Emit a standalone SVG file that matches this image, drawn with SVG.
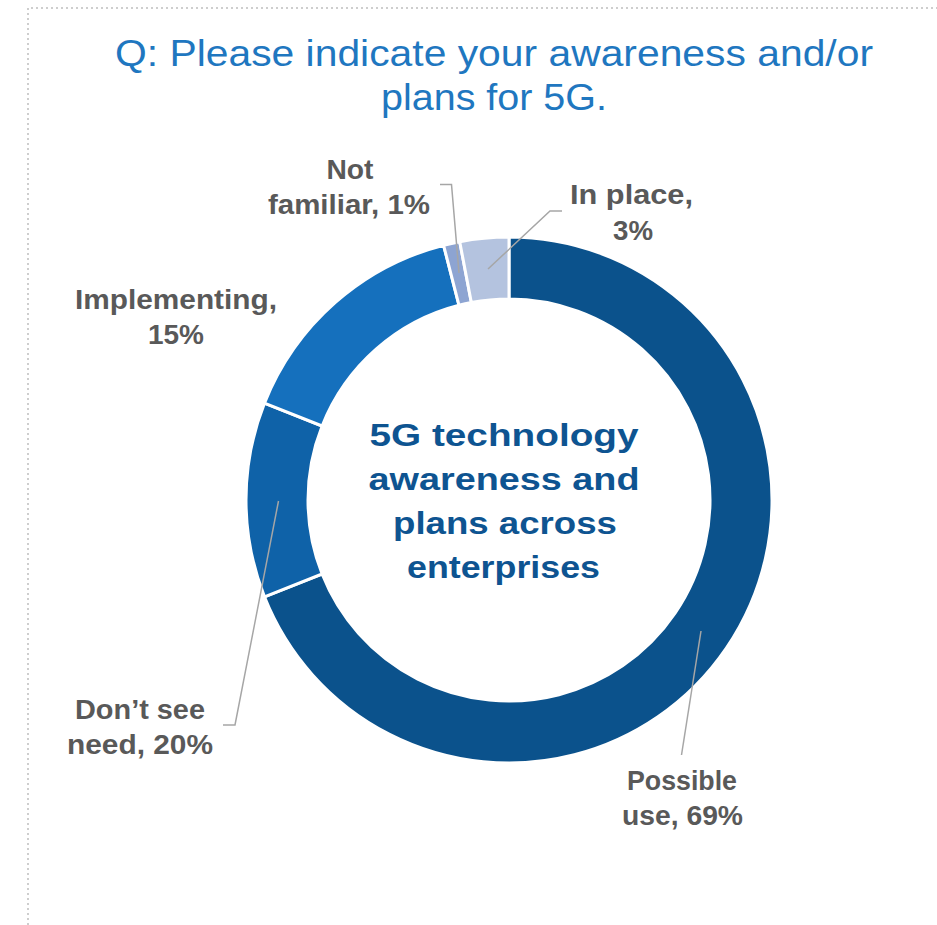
<svg xmlns="http://www.w3.org/2000/svg" width="937" height="925" viewBox="0 0 937 925">
<style>
.title{font-family:"Liberation Sans",Arial,sans-serif;font-size:36px;fill:#1F77C0;text-anchor:middle}
.lbl{font-family:"Liberation Sans",Arial,sans-serif;font-size:28px;font-weight:bold;fill:#595959;text-anchor:middle}
.ctr{font-family:"Liberation Sans",Arial,sans-serif;font-size:32px;font-weight:bold;fill:#0E5491;text-anchor:middle}
.seg{stroke:#FFFFFF;stroke-width:3;stroke-linejoin:miter}
.lead{fill:none;stroke:#A6A6A6;stroke-width:1.5}
.border{fill:none;stroke:#BFBFBF;stroke-width:1.5;stroke-dasharray:2 3}
</style>
<rect width="937" height="925" fill="#FFFFFF"/>
<path class="border" d="M28,925 L28,8 L937,8"/>
<g id="title">
<text class="title" x="494" y="66" textLength="758" lengthAdjust="spacingAndGlyphs">Q: Please indicate your awareness and/or</text>
<text class="title" x="494" y="110" textLength="226" lengthAdjust="spacingAndGlyphs">plans for 5G.</text>
</g>
<g id="seg-possible-use"><path class="seg" fill="#0B528C" d="M509,237 A263,263 0 1 1 264.47,596.82 L322.11,573.99 A201,201 0 1 0 509,299 Z"/></g>
<g id="seg-dont-see-need"><path class="seg" fill="#0F62A8" d="M264.47,596.82 A263,263 0 0 1 264.47,403.18 L322.11,426.01 A201,201 0 0 0 322.11,573.99 Z"/></g>
<g id="seg-implementing"><path class="seg" fill="#1570BD" d="M264.47,403.18 A263,263 0 0 1 443.59,245.26 L459.01,305.32 A201,201 0 0 0 322.11,426.01 Z"/></g>
<g id="seg-not-familiar"><path class="seg" fill="#8DA4D2" d="M443.59,245.26 A263,263 0 0 1 459.72,241.66 L471.34,302.56 A201,201 0 0 0 459.01,305.32 Z"/></g>
<g id="seg-in-place"><path class="seg" fill="#B4C3DF" d="M459.72,241.66 A263,263 0 0 1 509,237 L509,299 A201,201 0 0 0 471.34,302.56 Z"/></g>
<g id="connectors">
<path class="lead" d="M440,184.5 L451.5,184.5 L459,273"/>
<path class="lead" d="M562,211 L550,211 L488,269"/>
<path class="lead" d="M223,725 L235,725 L278.5,501"/>
<path class="lead" d="M681.5,755 L701,631"/>
</g>
<g id="center-label">
<text class="ctr" x="504" y="446" textLength="269" lengthAdjust="spacingAndGlyphs">5G technology</text>
<text class="ctr" x="504" y="490" textLength="271" lengthAdjust="spacingAndGlyphs">awareness and</text>
<text class="ctr" x="505" y="534" textLength="224" lengthAdjust="spacingAndGlyphs">plans across</text>
<text class="ctr" x="503.5" y="578" textLength="193" lengthAdjust="spacingAndGlyphs">enterprises</text>
</g>
<g id="label-not-familiar">
<text class="lbl" x="350" y="179" textLength="47" lengthAdjust="spacingAndGlyphs">Not</text>
<text class="lbl" x="349" y="214" textLength="162" lengthAdjust="spacingAndGlyphs">familiar, 1%</text>
</g>
<g id="label-in-place">
<text class="lbl" x="631.5" y="204" textLength="123" lengthAdjust="spacingAndGlyphs">In place,</text>
<text class="lbl" x="633" y="240" textLength="40" lengthAdjust="spacingAndGlyphs">3%</text>
</g>
<g id="label-implementing">
<text class="lbl" x="176" y="309" textLength="202" lengthAdjust="spacingAndGlyphs">Implementing,</text>
<text class="lbl" x="176" y="344" textLength="56" lengthAdjust="spacingAndGlyphs">15%</text>
</g>
<g id="label-dont-see-need">
<text class="lbl" x="140" y="719" textLength="130" lengthAdjust="spacingAndGlyphs">Don’t see</text>
<text class="lbl" x="140" y="754" textLength="146" lengthAdjust="spacingAndGlyphs">need, 20%</text>
</g>
<g id="label-possible-use">
<text class="lbl" x="682" y="790" textLength="110" lengthAdjust="spacingAndGlyphs">Possible</text>
<text class="lbl" x="682.5" y="825" textLength="121" lengthAdjust="spacingAndGlyphs">use, 69%</text>
</g>
</svg>
